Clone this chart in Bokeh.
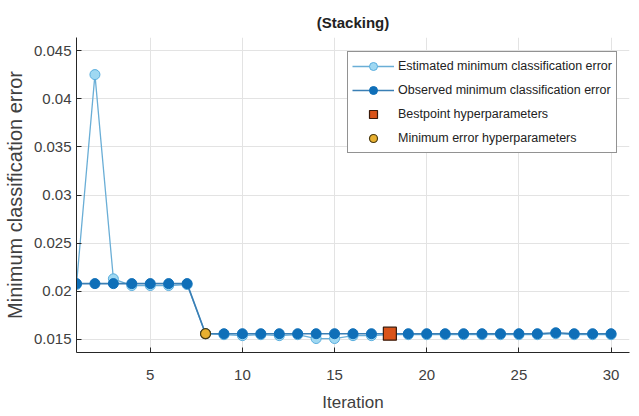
from bokeh.plotting import figure
from bokeh.models import Range1d, FixedTicker, CustomJSTickFormatter, Legend, LegendItem
from bokeh.embed import file_html
from bokeh.resources import INLINE

iterations = list(range(1, 31))
observed = [0.0208] * 7 + [0.0156] * 18 + [0.0156, 0.0157, 0.0156, 0.0156, 0.0156]
estimated = [0.0207, 0.0425, 0.0213, 0.0206, 0.0206, 0.0206, 0.0207, 0.0156,
             0.0155, 0.0154, 0.0155, 0.0154, 0.0155, 0.0151, 0.0151, 0.0154,
             0.0154, 0.0155, 0.0155, 0.0155, 0.0155, 0.0155, 0.0155, 0.0155,
             0.0155, 0.0155, 0.0156, 0.0155, 0.0155, 0.0155]
best_iter = [18]
best_val = [0.0156]
minerr_iter = [8]
minerr_val = [0.0156]
y_ticks = [0.015, 0.02, 0.025, 0.03, 0.035, 0.04, 0.045]
x_ticks = [5, 10, 15, 20, 25, 30]

FONT = "Liberation Sans"

p = figure(frame_width=553, frame_height=315, output_backend="svg", toolbar_location=None,
           x_range=Range1d(1, 31), y_range=Range1d(0.01365, 0.04635),
           min_border_left=69, min_border_right=1, min_border_top=37, min_border_bottom=55)
p.outline_line_color = None
p.background_fill_color = "white"

p.title.text = "(Stacking)"
p.title.align = "center"
p.title.text_font = FONT
p.title.text_font_size = "15px"
p.title.text_font_style = "bold"
p.title.text_color = "#222222"
p.title.standoff = 14

for ax in (p.xaxis[0], p.yaxis[0]):
    ax.axis_line_color = "#262626"
    ax.major_tick_line_color = "#262626"
    ax.major_tick_in = 5
    ax.major_tick_out = 0
    ax.minor_tick_line_color = None
    ax.major_label_text_font = FONT
    ax.major_label_text_font_size = "15px"
    ax.major_label_text_color = "#404040"
    ax.axis_label_text_font = FONT
    ax.axis_label_text_font_style = "normal"
    ax.axis_label_text_color = "#404040"

p.xaxis.axis_label_text_font_size = "17px"
p.yaxis.axis_label_text_font_size = "20px"
p.xaxis.ticker = FixedTicker(ticks=x_ticks)
p.yaxis.ticker = FixedTicker(ticks=y_ticks)
p.yaxis.formatter = CustomJSTickFormatter(code="return parseFloat(tick.toFixed(3)).toString();")
p.xaxis.axis_label = "Iteration"
p.yaxis.axis_label = "Minimum classification error"
p.xaxis.major_label_standoff = 17
p.yaxis.major_label_standoff = 5
p.xaxis.axis_label_standoff = 10
p.yaxis.axis_label_standoff = 5

p.xgrid.grid_line_color = "#e3e3e3"
p.ygrid.grid_line_color = "#e3e3e3"

est_line = p.line(iterations, estimated, line_color="#6aaed6", line_width=1.3)
est_pts = p.scatter(iterations, estimated, marker="circle", size=10,
                    fill_color="#9fd8f2", line_color="#5aaede", line_width=1)
obs_line = p.line(iterations, observed, line_color="#3a7fb5", line_width=1.6)
obs_pts = p.scatter(iterations, observed, marker="circle", size=10,
                    fill_color="#0f6fb8", line_color="#0f6fb8", line_width=1)
best_pts = p.scatter(best_iter, best_val, marker="square", size=13,
                     fill_color="#d95319", line_color="#3a1a0a", line_width=1.2)
min_pts = p.scatter(minerr_iter, minerr_val, marker="circle", size=10,
                    fill_color="#e8b030", line_color="#4a3a10", line_width=1.2)

legend = Legend(items=[
    LegendItem(label="Estimated minimum classification error", renderers=[est_line, est_pts]),
    LegendItem(label="Observed minimum classification error", renderers=[obs_line, obs_pts]),
    LegendItem(label="Bestpoint hyperparameters", renderers=[best_pts]),
    LegendItem(label="Minimum error hyperparameters", renderers=[min_pts]),
], location=(271, 199))
legend.border_line_color = "#262626"
legend.border_line_width = 1
legend.background_fill_alpha = 1
legend.label_text_font = FONT
legend.label_text_font_size = "12.5px"
legend.label_text_color = "#222222"
legend.glyph_width = 42
legend.glyph_height = 20
legend.label_height = 20
legend.spacing = 4
legend.padding = 4
legend.margin = 0
legend.label_standoff = 4
p.add_layout(legend, "center")

open("out.html", "w").write(file_html(p, INLINE))
